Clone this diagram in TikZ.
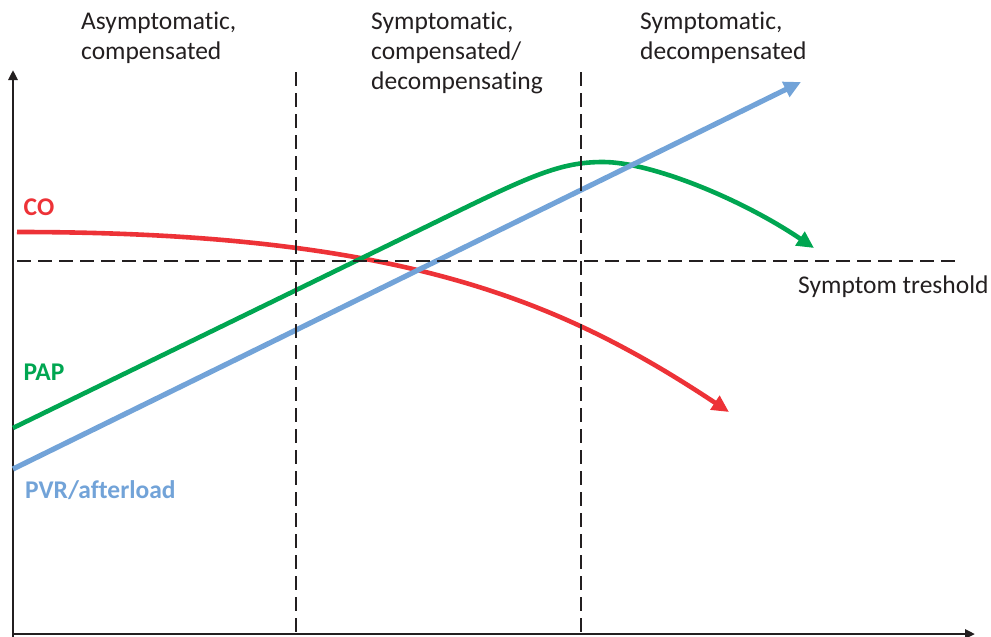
\documentclass[tikz,border=0pt]{standalone}
\usepackage{fontspec}
\setmainfont{Carlito}[Ligatures=NoCommon]
\usetikzlibrary{arrows.meta}
\definecolor{ink}{RGB}{35,31,32}
\definecolor{cored}{RGB}{237,50,55}
\definecolor{papgreen}{RGB}{0,166,81}
\definecolor{pvrblue}{RGB}{114,163,216}
\begin{document}
\begin{tikzpicture}[x=1pt,y=-1pt,
  axis/.style={ink,line width=2.8pt,-{Triangle[length=10pt,width=9pt]}},
  guide/.style={ink,line width=2.5pt,dash pattern=on 14pt off 7pt},
  curve/.style={line width=4.6pt,-{Triangle[length=17pt,width=16pt]}},
  lbl/.style={font=\fontsize{25.5}{30}\selectfont,text=ink,inner sep=0pt,align=left},
  curvelbl/.style={font=\fontsize{25.5}{30}\selectfont\bfseries,inner sep=0pt}]
\useasboundingbox (0,0) rectangle (991,637);

% axes
\coordinate (yfoot) at (13,637);
\coordinate (ytop) at (13,70);
\coordinate (xfoot) at (12,634);
\coordinate (xend) at (975,634);
\draw[axis] (yfoot) -- (ytop);
\draw[axis] (xfoot) -- (xend);

% curves
\coordinate (co0) at (17,232);
\coordinate (co1) at (729,412);
\draw[curve,cored] (co0) .. controls (400,232) and (560,300) .. (co1);

\coordinate (pap0) at (13,428);
\coordinate (pap1) at (440,220);
\coordinate (pappeak) at (603,162);
\coordinate (pap2) at (814,248);
\draw[curve,papgreen] (pap0) -- (pap1) .. controls (530,176) and (560,162) .. (pappeak)
  .. controls (650,162) and (740,198) .. (pap2);

\coordinate (pvr0) at (13,469);
\coordinate (pvr1) at (801,82);
\draw[curve,pvrblue,line width=5.2pt] (pvr0) -- (pvr1);

% phase boundaries and threshold
\coordinate (b1top) at (296,72);
\coordinate (b1bot) at (296,634);
\coordinate (b2top) at (581,72);
\coordinate (b2bot) at (581,634);
\coordinate (th0) at (17,261);
\coordinate (th1) at (958,261);
\draw[guide] (b1top) -- (b1bot);
\draw[guide] (b2top) -- (b2bot);
\draw[guide] (th0) -- (th1);

% labels
\node[curvelbl,text=cored] (colbl) at (39,207) {CO};
\node[curvelbl,text=papgreen] (paplbl) at (44,372) {PAP};
\node[curvelbl,text=pvrblue,anchor=base west] (pvrlbl) at (25,498) {PVR/afterload};
\node[lbl,anchor=base west] (thlbl) at (798,293) {Symptom treshold};

\node[lbl,anchor=north west] (ph1) at (81,12) {Asymptomatic,\\compensated};
\node[lbl,anchor=north west] (ph2) at (371,12) {Symptomatic,\\compensated/\\decompensating};
\node[lbl,anchor=north west] (ph3) at (640,12) {Symptomatic,\\decompensated};
\end{tikzpicture}
\end{document}
